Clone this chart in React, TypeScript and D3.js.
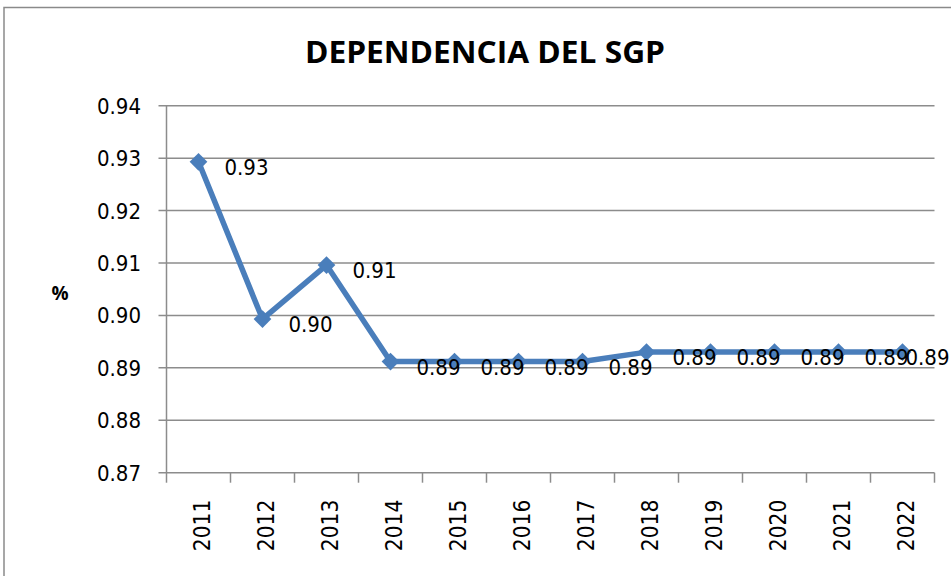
import * as React from "react";
import * as d3 from "d3";

const years = ["2011", "2012", "2013", "2014", "2015", "2016", "2017", "2018", "2019", "2020", "2021", "2022"];
const values = [0.9293, 0.8993, 0.9096, 0.8912, 0.8912, 0.8912, 0.8912, 0.893, 0.893, 0.893, 0.893, 0.893];
const yTicks = [0.87, 0.88, 0.89, 0.9, 0.91, 0.92, 0.93, 0.94];

const DependenciaChart = () => {
  const svgRef = React.useRef<SVGSVGElement>(null);

  React.useEffect(() => {
    const width = 951;
    const height = 576;
    const plot = { left: 166.5, right: 934.5, top: 105.7, bottom: 472.7 };
    const blue = "#4a7ebb";
    const grid = "#8c8c8c";
    const numFont = "'DejaVu Sans Condensed', 'DejaVu Sans', sans-serif";

    const svg = d3.select(svgRef.current).attr("width", width).attr("height", height);
    svg.selectAll("*").remove();

    svg.append("rect").attr("width", width).attr("height", height).attr("fill", "#fff");

    // chart frame (right and bottom edges run off the picture)
    svg
      .append("rect")
      .attr("x", 4)
      .attr("y", 7.5)
      .attr("width", width + 20)
      .attr("height", height)
      .attr("fill", "none")
      .attr("stroke", "#8a8a8a")
      .attr("stroke-width", 1.5);

    svg
      .append("text")
      .attr("x", 485)
      .attr("y", 63)
      .attr("text-anchor", "middle")
      .attr("font-family", "'Open Sans', sans-serif")
      .attr("font-weight", "bold")
      .attr("font-size", 31)
      .attr("textLength", 360)
      .attr("lengthAdjust", "spacingAndGlyphs")
      .text("DEPENDENCIA DEL SGP");

    const x = d3.scaleBand().domain(years).range([plot.left, plot.right]);
    const y = d3.scaleLinear().domain([0.87, 0.94]).range([plot.bottom, plot.top]);

    // horizontal gridlines + left ticks
    svg
      .append("g")
      .selectAll("line")
      .data(yTicks)
      .enter()
      .append("line")
      .attr("x1", plot.left - 8)
      .attr("x2", plot.right)
      .attr("y1", (d) => y(d))
      .attr("y2", (d) => y(d))
      .attr("stroke", grid)
      .attr("stroke-width", 1.5);

    svg
      .append("g")
      .selectAll("text")
      .data(yTicks)
      .enter()
      .append("text")
      .attr("x", 141)
      .attr("y", (d) => y(d) + 8)
      .attr("text-anchor", "end")
      .attr("font-family", numFont)
      .attr("font-size", 22)
      .text((d) => d.toFixed(2));

    // y axis line
    svg
      .append("line")
      .attr("x1", plot.left)
      .attr("x2", plot.left)
      .attr("y1", plot.top)
      .attr("y2", plot.bottom)
      .attr("stroke", grid)
      .attr("stroke-width", 1.5);

    // x axis ticks
    const xTickPos = years.map((d) => x(d)!).concat([plot.right]);
    svg
      .append("g")
      .selectAll("line")
      .data(xTickPos)
      .enter()
      .append("line")
      .attr("x1", (d) => d)
      .attr("x2", (d) => d)
      .attr("y1", plot.bottom)
      .attr("y2", plot.bottom + 10)
      .attr("stroke", grid)
      .attr("stroke-width", 1.5);

    svg
      .append("g")
      .selectAll("text")
      .data(years)
      .enter()
      .append("text")
      .attr("transform", (d) => `translate(${x(d)! + x.bandwidth() / 2 + 11} ${plot.bottom + 27}) rotate(-90)`)
      .attr("text-anchor", "end")
      .attr("font-family", numFont)
      .attr("font-size", 22.5)
      .text((d) => d);

    svg
      .append("text")
      .attr("x", 60)
      .attr("y", 300)
      .attr("text-anchor", "middle")
      .attr("font-family", "'Open Sans', sans-serif")
      .attr("font-weight", "bold")
      .attr("font-size", 19)
      .text("%");

    const pts = years.map((d, i) => ({ year: d, value: values[i] }));
    const cx = (d) => x(d.year)! + x.bandwidth() / 2;

    const line = d3
      .line<any>()
      .x((d) => cx(d))
      .y((d) => y(d.value));

    svg
      .append("path")
      .datum(pts)
      .attr("d", line)
      .attr("fill", "none")
      .attr("stroke", blue)
      .attr("stroke-width", 5.5)
      .attr("stroke-linejoin", "round");

    svg
      .append("g")
      .selectAll("path")
      .data(pts)
      .enter()
      .append("path")
      .attr("d", d3.symbol().type(d3.symbolDiamond2).size(200))
      .attr("transform", (d) => `translate(${cx(d)} ${y(d.value)})`)
      .attr("fill", blue);

    // data labels; the last one is pulled in against the right edge
    svg
      .append("g")
      .selectAll("text")
      .data(pts)
      .enter()
      .append("text")
      .attr("x", (d, i) => (i === pts.length - 1 ? cx(d) + 3 : cx(d) + 26))
      .attr("y", (d) => y(d.value) + 13)
      .attr("font-family", numFont)
      .attr("font-size", 22)
      .text((d) => d.value.toFixed(2));
  }, []);

  return <svg ref={svgRef} style={{ position: "absolute", left: 0, top: 0 }} />;
};

export default function App() {
  return <DependenciaChart />;
}
